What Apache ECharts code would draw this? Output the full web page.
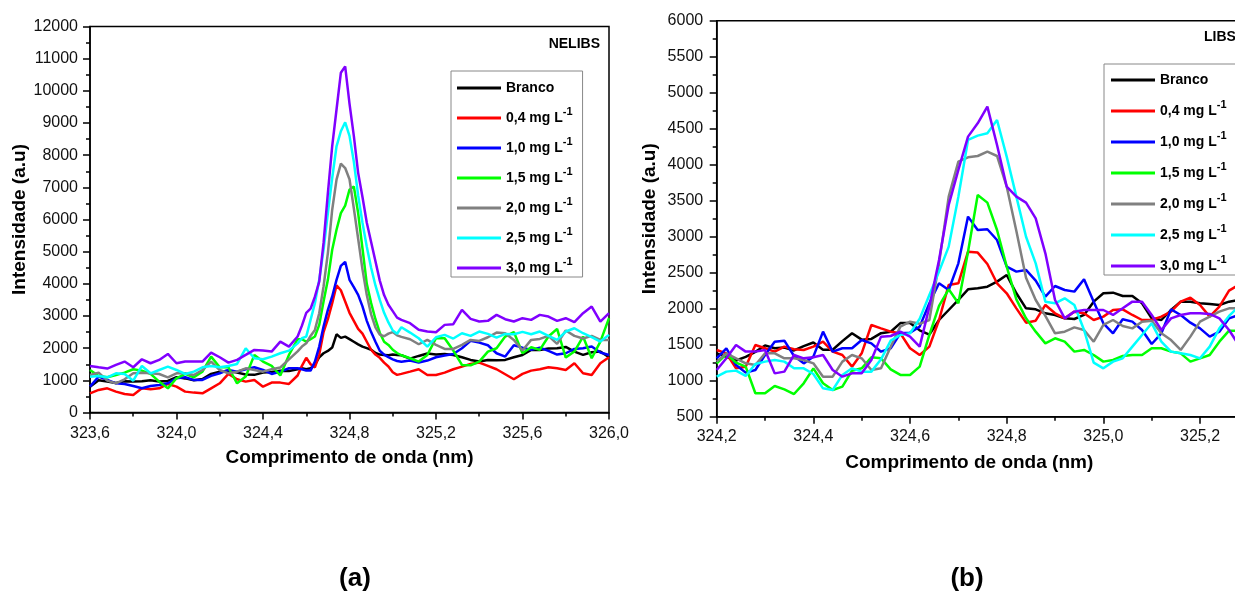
<!DOCTYPE html>
<html>
<head>
<meta charset="utf-8">
<script src="https://cdn.jsdelivr.net/npm/echarts@6.0.0/dist/echarts.min.js"></script>
<style>
html, body { margin: 0; padding: 0; overflow: hidden; background: #fff; }
#chart { width: 1300px; height: 596px; }
</style>
</head>
<body>
<div id="chart"></div>
<script>

// ---- data (a) NELIBS ----
const waveA = [
   323.60,323.64,323.68,323.72,323.76,323.80,323.84,323.88,323.92,323.96,324.00,324.04,
   324.08,324.12,324.16,324.20,324.24,324.28,324.32,324.36,324.40,324.44,324.48,324.52,
   324.56,324.58,324.60,324.62,324.64,324.66,324.68,324.70,324.72,324.74,324.76,324.78,
   324.80,324.82,324.84,324.86,324.88,324.90,324.92,324.94,324.96,324.98,325.00,325.02,325.04,
   325.08,325.12,325.16,325.20,325.24,325.28,325.32,325.36,325.40,325.44,325.48,325.52,
   325.56,325.60,325.64,325.68,325.72,325.76,325.80,325.84,325.88,325.92,325.96,326.00
];
const brancoA = [
   804,1000,960,920,970,960,970,1000,960,980,1100,1060,1000,1040,1200,1270,1300,1240,1180,1170,1240,1260,1300,1290,
   1344,1375,1344,1375,1479,1718,1842,1915,2018,2430,2320,2360,2280,2200,2120,2050,2000,1950,1850,1800,1790,1780,1800,1790,1780,
   1676,1759,1832,1800,1821,1790,1718,1635,1583,1635,1624,1635,1718,1790,1946,1946,1987,1998,2039,1894,1790,1873,1894,1718
];
const c04A = [
   597,701,752,649,576,545,752,721,752,887,804,649,618,597,752,908,1199,1033,960,1012,804,929,929,887,
   1150,1450,1700,1500,1400,1800,2500,2900,3400,3950,3800,3450,3100,2850,2600,2450,2200,1950,1800,1700,1550,1430,1250,1170,1200,
   1271,1344,1168,1168,1240,1344,1427,1510,1552,1448,1344,1188,1033,1199,1302,1344,1406,1375,1323,1531,1220,1168,1531,1718
];
const c10A = [
   804,1116,1012,908,887,825,752,825,856,908,1064,1095,1012,1012,1137,1220,1323,1271,1344,1406,1323,1199,1271,1375,
   1375,1344,1302,1302,1583,2049,2672,3191,3606,4125,4560,4685,4125,3897,3658,3300,2850,2500,2200,1920,1800,1720,1650,1600,1580,
   1614,1552,1614,1718,1770,1821,1998,2226,2174,2091,1842,1738,2091,2018,1946,2018,1915,1800,1842,1977,1998,2050,1863,1790
];
const c15A = [
   1323,1137,1095,1168,1240,1344,1302,1199,960,752,1064,1199,1095,1271,1738,1406,1406,908,1116,1790,1583,1448,1150,1790,
   2278,2278,2205,2278,2361,2724,3450,4125,5059,5681,6200,6429,6927,7030,6200,5100,4000,3400,2900,2480,2200,2100,1950,1850,1780,
   1686,1583,1790,2309,2309,1925,1479,1469,1583,1894,1998,2361,2500,1842,2029,1946,2361,2600,1707,1894,2361,1686,2205,2932
];
const c20A = [
   1166,1239,990,907,1031,1218,1239,1218,1197,1094,1218,1218,1166,1322,1581,1322,1218,1270,1374,1322,1270,1343,1400,1650,
   1900,2050,2150,2381,2568,3087,3917,4955,6304,7238,7736,7600,7250,6350,5400,4450,3650,3050,2650,2420,2370,2450,2500,2400,2350,
   2278,2122,2257,2101,1977,1977,2101,2257,2226,2340,2485,2465,2257,1925,2257,2288,2382,2133,2548,2382,2299,2382,2257,2257
];
const c25A = [
   1115,1135,1094,1218,1197,990,1447,1218,1322,1426,1322,1197,1270,1405,1447,1405,1447,1509,1996,1685,1654,1737,1841,1924,
   2150,2309,2360,2880,3398,4125,5059,6200,7290,8276,8743,9023,8600,7800,6750,5900,5150,4500,3950,3500,3100,2800,2550,2450,2650,
   2485,2309,2050,2340,2413,2299,2465,2382,2517,2444,2330,2444,2434,2506,2434,2517,2382,2257,2517,2620,2465,2340,2205,2413
];
const c30A = [
   1448,1406,1365,1479,1583,1406,1655,1531,1635,1821,1531,1583,1583,1583,1863,1718,1552,1635,1790,1946,1925,1894,2205,2050,
   2361,2700,3100,3230,3600,4070,5270,6820,8280,9420,10560,10760,9600,8600,7450,6700,5900,5300,4700,4100,3650,3350,3150,2950,2880,
   2776,2570,2517,2495,2724,2745,3190,2910,2828,2849,3035,2900,2828,2932,2880,3035,2984,2849,2932,2807,3087,3295,2828,3087
];

// ---- data (b) LIBS ----
const waveB = [
   324.20,324.22,324.24,324.26,324.28,324.30,324.32,324.34,324.36,324.38,324.40,324.42,324.44,324.46,
   324.48,324.50,324.52,324.54,324.56,324.58,324.60,324.62,324.64,324.66,324.68,324.70,324.72,324.74,
   324.76,324.78,324.80,324.82,324.84,324.86,324.88,324.90,324.92,324.94,324.96,324.98,325.00,325.02,
   325.04,325.06,325.08,325.10,325.12,325.14,325.16,325.18,325.20,325.22,325.24,325.26,325.28
];
const brancoB = [
   1380,1330,1280,1330,1400,1490,1450,1460,1420,1480,1530,1430,1430,1550,1660,1570,1580,1660,1680,1800,1800,1700,1640,
   1843,1982,2121,2269,2283,2306,2376,2468,2214,2005,1991,1936,1913,1866,1857,1913,2098,
   2214,2223,2177,2177,2075,1866,1843,1982,2098,2098,2075,2066,2052,2098,2121
];
const c04B = [
   1427,1380,1172,1195,1496,1450,1403,1473,1436,1427,1473,1542,1403,1357,1195,1380,1774,1727,1681,1658,1450,1357,1473,
   1843,2330,2353,2792,2779,2621,2353,2214,2005,1806,1834,2052,1936,1866,1959,1936,1843,
   1890,1982,1991,1913,1843,1843,1890,1959,2098,2153,2052,1890,2029,2251,2330
];
const c10B = [
   1311,1450,1218,1112,1149,1357,1542,1556,1343,1241,1334,1681,1403,1450,1450,1565,1519,1403,1450,1658,1667,1751,2075,
   2353,2260,2630,3279,3093,3103,2954,2584,2515,2538,2390,2167,2315,2260,2237,2408,2098,
   1797,1658,1853,1820,1704,1510,1658,1991,1913,1806,1727,1612,1681,1866,1913
];
const c15B = [
   1241,1371,1251,1195,825,825,926,880,815,964,1172,964,871,917,1139,1172,1325,1311,1158,1080,1080,1195,1635,
   2038,2269,2075,2792,3580,3473,3093,2584,2130,1866,1681,1519,1589,1542,1404,1427,1357,
   1265,1288,1343,1357,1357,1450,1450,1404,1380,1265,1311,1357,1542,1695,1695
];
const c20B = [
   1265,1380,1311,1241,1218,1380,1380,1311,1311,1288,1241,1056,1056,1265,1357,1311,1149,1172,1473,1751,1820,1790,1843,
   2630,3556,4043,4103,4121,4182,4121,3696,3080,2430,2121,1899,1658,1681,1741,1704,1542,
   1774,1843,1760,1727,1820,1834,1658,1565,1427,1612,1820,1890,1959,2005,2005
];
const c25B = [
   1056,1126,1140,1066,1232,1265,1288,1265,1172,1172,1093,894,871,1080,1172,1126,1126,1297,1556,1635,1658,1860,2191,
   2515,2862,3556,4344,4404,4436,4621,4112,3556,3000,2630,2098,2075,2144,2052,1704,1250,
   1172,1265,1311,1473,1635,1797,1542,1404,1380,1357,1311,1473,1727,1899,2029
];
const c30B = [
   1149,1311,1496,1404,1404,1427,1102,1126,1357,1311,1325,1357,1149,1056,1102,1102,1288,1612,1621,1681,1612,1473,2029,
   2677,3441,3927,4390,4575,4807,4274,3696,3556,3473,3255,2769,2121,1866,1959,1982,1982,
   1982,1913,2005,2098,2098,1913,1704,1866,1913,1936,1936,1927,1866,1704,1496
];

const seriesNames = ['Branco', '0,4 mg L-1', '1,0 mg L-1', '1,5 mg L-1', '2,0 mg L-1', '2,5 mg L-1', '3,0 mg L-1'];
const seriesColors = ['#000000', '#ff0000', '#0000ff', '#00ff00', '#808080', '#00ffff', '#8000ff'];
const valuesA = [brancoA, c04A, c10A, c15A, c20A, c25A, c30A];
const valuesB = [brancoB, c04B, c10B, c15B, c20B, c25B, c30B];

const fontName = '"Liberation Sans", Arial, sans-serif';


function commaLabel(v)
{
   return v.toFixed(1).replace('.', ',');
}


function makeXAxis(gi, min, max, step, labelMargin, nameGap, namePad)
{
   return {
      type: 'value', gridIndex: gi, min: min, max: max, interval: step,
      name: 'Comprimento de onda (nm)', nameLocation: 'middle', nameGap: nameGap,
      nameTextStyle: { fontFamily: fontName, fontSize: 19, fontWeight: 'bold', color: '#000', padding: namePad },
      axisLine: { onZero: false, lineStyle: { color: '#000', width: 1.5 } },
      axisTick: { length: 7, lineStyle: { color: '#000', width: 1.5 } },
      minorTick: { show: true, splitNumber: 2, length: 4, lineStyle: { color: '#000', width: 1.5 } },
      axisLabel: { margin: labelMargin, fontFamily: fontName, fontSize: 16, color: '#111',
                   showMinLabel: true, showMaxLabel: true, formatter: commaLabel },
      splitLine: { show: false },
      minorSplitLine: { show: false }
   };
}


function makeYAxis(gi, min, max, step, nameGap, labelMargin)
{
   return {
      type: 'value', gridIndex: gi, min: min, max: max, interval: step,
      name: 'Intensidade (a.u)', nameLocation: 'middle', nameGap: nameGap,
      nameTextStyle: { fontFamily: fontName, fontSize: 19, fontWeight: 'bold', color: '#000' },
      axisLine: { show: true, onZero: false, lineStyle: { color: '#000', width: 1.5 } },
      axisTick: { show: true, length: 7, lineStyle: { color: '#000', width: 1.5 } },
      minorTick: { show: true, splitNumber: 2, length: 4, lineStyle: { color: '#000', width: 1.5 } },
      axisLabel: { margin: labelMargin, fontFamily: fontName, fontSize: 16, color: '#111',
                   showMinLabel: true, showMaxLabel: true, formatter: (v) => String(v) },
      splitLine: { show: false },
      minorSplitLine: { show: false }
   };
}


function makeLegend(left, top, gap, pad)
{
   return {
      orient: 'vertical', left: left, top: top, itemGap: gap, padding: pad,
      icon: 'rect', itemWidth: 44, itemHeight: 3,
      borderColor: '#888', borderWidth: 1, backgroundColor: '#fff',
      selectedMode: false,
      data: seriesNames,
      formatter: function (name)
      {
         if (name.endsWith('L-1')) return '{t|' + name.slice(0, -2) + '}{s|-1}';
         return '{t|' + name + '}';
      },
      textStyle:
      {
         color: '#000', fontFamily: fontName,
         rich:
         {
            t: { fontSize: 14, fontWeight: 'bold', lineHeight: 24, fontFamily: fontName },
            s: { fontSize: 11, fontWeight: 'bold', lineHeight: 8, verticalAlign: 'top', fontFamily: fontName }
         }
      }
   };
}


function makeSeries()
{
   const series = [];
   for (let k = 0; k < 2; k++)
   {
      const xs = k === 0 ? waveA : waveB;
      const vals = k === 0 ? valuesA : valuesB;
      for (let i = 0; i < seriesNames.length; i++)
      {
         series.push(
         {
            type: 'line', name: seriesNames[i],
            xAxisIndex: k, yAxisIndex: k,
            data: xs.map((x, j) => [x, vals[i][j]]),
            symbol: 'none', showSymbol: false,
            color: seriesColors[i],
            itemStyle: { color: seriesColors[i] },
            lineStyle: { color: seriesColors[i], width: 2.5 },
            z: 2 + i
         });
      }
   }
   return series;
}


function labelText(x, y, text, size, align)
{
   return {
      type: 'text', x: x, y: y, z: 100,
      style: { text: text, fill: '#000', fontFamily: fontName, fontSize: size, fontWeight: 'bold',
               align: align, verticalAlign: 'middle' }
   };
}


function setupChart()
{
   const chart = echarts.init(document.getElementById('chart'), null, { renderer: 'canvas' });

   const option =
   {
      animation: false,
      backgroundColor: '#fff',
      grid:
      [
         { left: 90, top: 26.5, width: 519, height: 386, show: true, borderColor: '#000', borderWidth: 1.5,
           backgroundColor: 'transparent', outerBoundsMode: 'none' },
         { left: 716.7, top: 20.7, width: 580, height: 396, show: true, borderColor: '#000', borderWidth: 1.5,
           backgroundColor: 'transparent', outerBoundsMode: 'none' }
      ],
      xAxis:
      [
         makeXAxis(0, 323.6, 326.0, 0.4, 13, 36, [0, 0, 0, 0]),
         makeXAxis(1, 324.2, 325.4, 0.2, 12, 37, [0, 75, 0, 0])
      ],
      yAxis:
      [
         makeYAxis(0, 0, 12000, 1000, 59, 12),
         makeYAxis(1, 500, 6000, 500, 57, 13.5)
      ],
      legend:
      [
         makeLegend(451, 71, 11, [10, 10, 2, 6]),
         makeLegend(1104, 64, 12, [9, 10, 2, 7])
      ],
      series: makeSeries(),
      graphic:
      [
         labelText(600, 44, 'NELIBS', 14, 'right'),
         labelText(1204, 37, 'LIBS', 14, 'left'),
         labelText(355, 579, '(a)', 26, 'center'),
         labelText(967, 579, '(b)', 26, 'center')
      ]
   };

   chart.setOption(option);
}


document.addEventListener('DOMContentLoaded', () =>
{
   setupChart();
});

</script>
</body>
</html>
